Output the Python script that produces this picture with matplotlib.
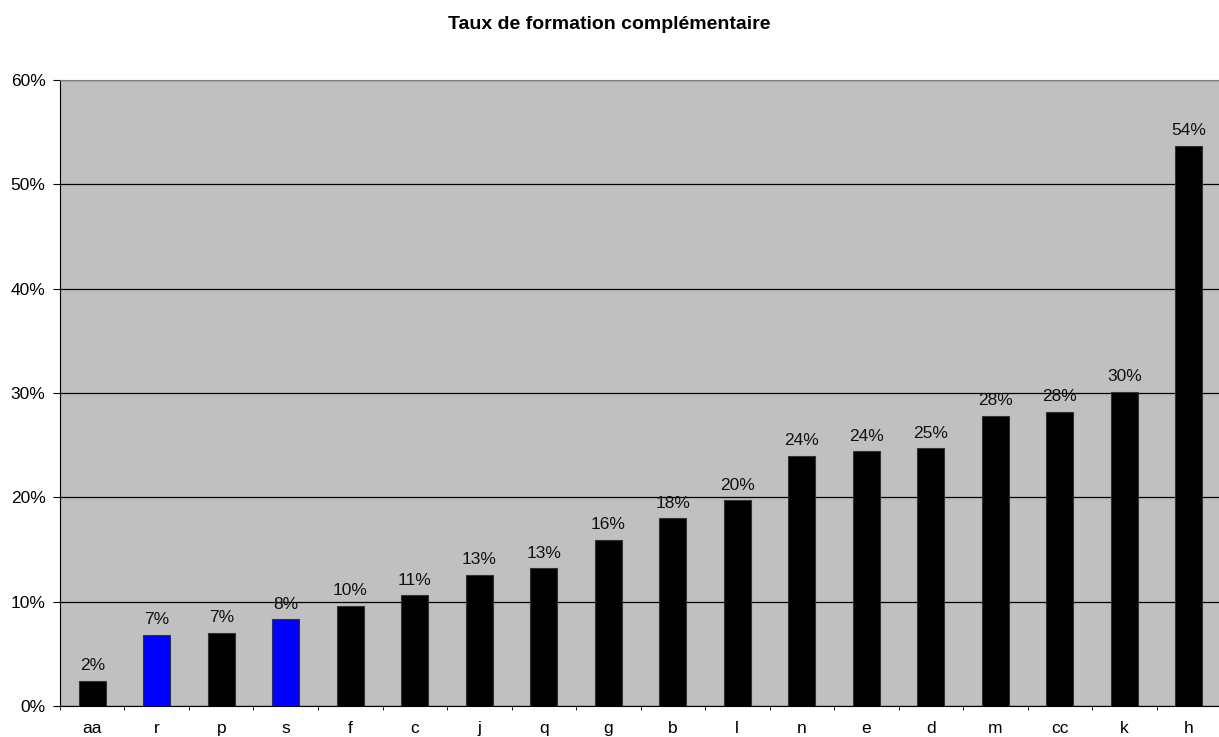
import matplotlib
matplotlib.use("Agg")
import matplotlib.pyplot as plt
import numpy as np

# Data
categories = ['aa', 'r', 'p', 's', 'f', 'c', 'j', 'q', 'g', 'b', 'l', 'n', 'e', 'd', 'm', 'cc', 'k', 'h']
rates = [0.024, 0.068, 0.070, 0.083, 0.096, 0.106, 0.126, 0.132, 0.159, 0.180, 0.197,
         0.240, 0.244, 0.247, 0.278, 0.282, 0.301, 0.537]
highlighted = ['r', 's']
yticks = [0.0, 0.1, 0.2, 0.3, 0.4, 0.5, 0.6]

plt.rcParams['font.family'] = ['Liberation Sans', 'DejaVu Sans']

fig = plt.figure(figsize=(12.19, 7.37), dpi=100)
ax = fig.add_axes([0.0492, 0.0421, 0.9525, 0.8494])
ax.set_facecolor('#C0C0C0')

x = np.arange(len(categories))
colors = ['#0000FF' if c in highlighted else '#000000' for c in categories]
ax.bar(x, rates, width=0.42, color=colors, edgecolor='#333333', linewidth=0.8, zorder=3)

# value labels above bars
for xi, v in zip(x, rates):
    ax.annotate(f"{round(v * 100):d}%", (xi, v), xytext=(0, 5.5), textcoords='offset points',
                ha='center', va='bottom', fontsize=12.5, color='#111111')

ax.set_ylim(0, 0.6)
ax.set_xlim(-0.5, len(categories) - 0.5)
ax.set_yticks(yticks)
ax.set_yticklabels([f"{int(round(t * 100))}%" for t in yticks], fontsize=12.5)
ax.yaxis.grid(True, color='black', linewidth=0.9, zorder=1)
ax.set_axisbelow(True)

# category labels at centres, tick marks between categories
ax.set_xticks(x)
ax.set_xticklabels(categories, fontsize=12.5)
ax.tick_params(axis='x', length=0, pad=10.5)
ax.set_xticks(np.arange(-0.5, len(categories), 1.0), minor=True)
ax.tick_params(axis='x', which='minor', length=3, direction='out', color='black')
ax.tick_params(axis='y', length=5, direction='out', pad=5.5)

ax.spines['top'].set_color('#808080')
ax.spines['right'].set_visible(False)
ax.spines['left'].set_color('black')
ax.spines['bottom'].set_color('black')

fig.text(0.5, 0.9607, 'Taux de formation complémentaire', ha='center', va='baseline',
         fontsize=14, fontweight='bold')

fig.savefig('out.png', dpi=100)
